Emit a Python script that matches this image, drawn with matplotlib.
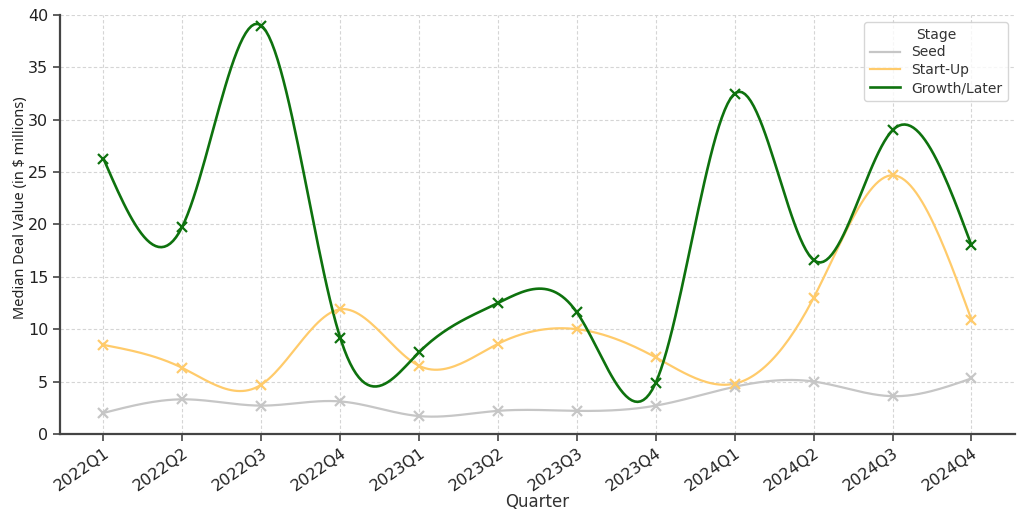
import numpy as np
import matplotlib
matplotlib.use("Agg")
import matplotlib.pyplot as plt

quarters = ["2022Q1", "2022Q2", "2022Q3", "2022Q4",
            "2023Q1", "2023Q2", "2023Q3", "2023Q4",
            "2024Q1", "2024Q2", "2024Q3", "2024Q4"]
seed = [2.0, 3.3, 2.7, 3.1, 1.7, 2.2, 2.2, 2.7, 4.5, 5.0, 3.6, 5.3]
startup = [8.5, 6.3, 4.7, 11.9, 6.5, 8.6, 10.0, 7.3, 4.8, 13.0, 24.7, 10.9]
growth = [26.3, 19.8, 39.0, 9.2, 7.8, 12.5, 11.6, 4.9, 32.5, 16.6, 29.0, 18.0]

series_names = ["Seed", "Start-Up", "Growth/Later"]
series_values = [seed, startup, growth]
series_colors = ["#C6C6C6", "#FFCB6B", "#0E720E"]
series_widths = [1.6, 1.6, 1.9]


def smooth(xs, ys, n=300):
    """Natural cubic spline used only to render a smooth curve."""
    xs = np.asarray(xs, float)
    ys = np.asarray(ys, float)
    m = len(xs)
    h = np.diff(xs)
    A = np.zeros((m, m))
    b = np.zeros(m)
    A[0, 0] = 1.0
    A[-1, -1] = 1.0
    for i in range(1, m - 1):
        A[i, i - 1] = h[i - 1]
        A[i, i] = 2 * (h[i - 1] + h[i])
        A[i, i + 1] = h[i]
        b[i] = 6 * ((ys[i + 1] - ys[i]) / h[i] - (ys[i] - ys[i - 1]) / h[i - 1])
    M = np.linalg.solve(A, b)
    xf = np.linspace(xs[0], xs[-1], n)
    idx = np.clip(np.searchsorted(xs, xf) - 1, 0, m - 2)
    x0, x1 = xs[idx], xs[idx + 1]
    hh = x1 - x0
    t0 = x1 - xf
    t1 = xf - x0
    yf = (M[idx] * t0 ** 3 / (6 * hh) + M[idx + 1] * t1 ** 3 / (6 * hh)
          + (ys[idx] / hh - M[idx] * hh / 6) * t0
          + (ys[idx + 1] / hh - M[idx + 1] * hh / 6) * t1)
    return xf, yf


fig = plt.figure(figsize=(10.24, 5.19), dpi=100)
ax = fig.add_axes([0.0586, 0.164, 0.9325, 0.807])

x = np.arange(len(quarters))
for name, vals, col, lw in zip(series_names, series_values, series_colors, series_widths):
    xf, yf = smooth(x, vals)
    ax.plot(xf, yf, color=col, lw=lw, label=name, zorder=3)
    ax.plot(x, vals, linestyle="none", marker="x", color=col,
            markersize=7, markeredgewidth=1.6, zorder=4)

ax.set_ylim(0, 40)
ax.set_xticks(x)
ax.set_xticklabels(quarters, rotation=35, ha="right", rotation_mode="anchor",
                   fontsize=11.5, color="#222222")
ax.tick_params(axis="y", labelsize=11.5, labelcolor="#222222")
ax.tick_params(axis="both", direction="out", length=5, width=1.2, color="#444444")
ax.set_xlabel("Quarter", fontsize=12, color="#333333", labelpad=-1)
ax.set_ylabel("Median Deal Value (in $ millions)", fontsize=10.5,
              family=["Noto Sans", "DejaVu Sans"], color="#222222")
ax.yaxis.set_label_coords(-0.034, 0.54)

ax.grid(True, linestyle=(0, (3, 2)), color="#d5d5d5", linewidth=0.8)
ax.set_axisbelow(True)
for s in ["top", "right"]:
    ax.spines[s].set_visible(False)
for s in ["left", "bottom"]:
    ax.spines[s].set_color("#444444")
    ax.spines[s].set_linewidth(1.6)

leg = ax.legend(title="Stage", loc="upper right", fontsize=10, title_fontsize=10,
                frameon=True, edgecolor="#cccccc", labelspacing=0.28,
                handlelength=2.2)
for t in leg.get_texts():
    t.set_color("#333333")
leg.get_title().set_color("#333333")

fig.savefig("out.png", dpi=100)
